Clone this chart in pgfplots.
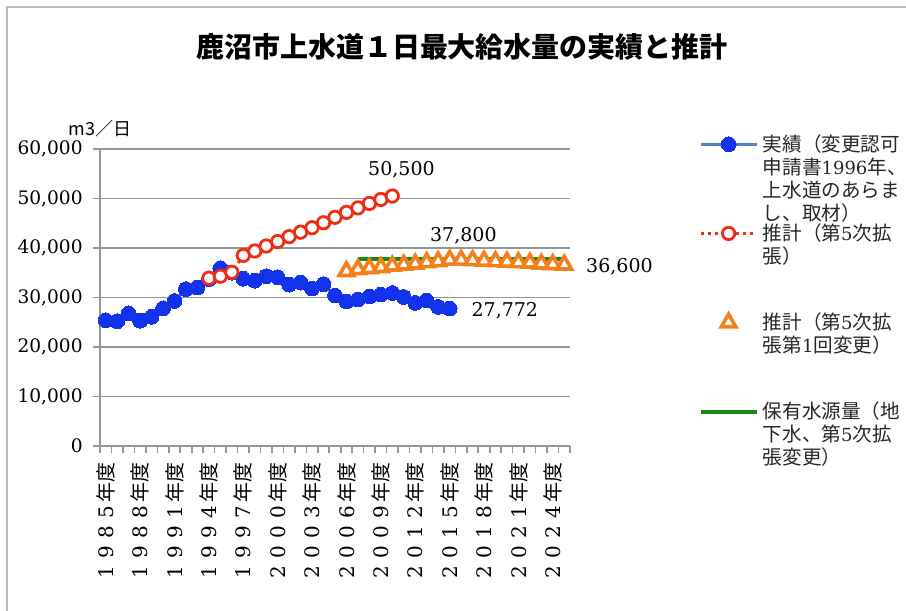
\documentclass[border=0pt]{standalone}
\usepackage{fontspec}
\usepackage{pgfplots}
\pgfplotsset{compat=1.18}
\newfontfamily\numfont{DejaVu Serif}
\newfontfamily\cjk{Noto Sans CJK JP}
\definecolor{blueline}{RGB}{84,130,190}
\definecolor{bluemark}{RGB}{18,50,235}
\definecolor{redmark}{RGB}{240,45,20}
\definecolor{orangemark}{RGB}{245,128,25}
\definecolor{greenline}{RGB}{20,140,20}
\definecolor{gridgray}{RGB}{150,150,150}

% vertical year label: digits spaced like full-width characters
\def\yr#1#2#3#4{{\numfont\makebox[10pt]{#1}\makebox[10pt]{#2}\makebox[10pt]{#3}\makebox[10pt]{#4}}{\cjk 年度}}
\newcommand\lgd[1]{\parbox[t]{75pt}{#1}}
\newcommand\ld[1]{{\numfont\fontsize{9}{11.5}\selectfont #1}}

\begin{document}
\begin{tikzpicture}
\path[use as bounding box] (0,0) rectangle (453pt,305.5pt);
\draw[gray!55, line width=0.8pt] (3.5pt,0) -- (3.5pt,302pt) -- (453pt,302pt);
\node[font=\cjk\bfseries\fontsize{14}{16}\selectfont] at (231pt,282pt) {鹿沼市上水道１日最大給水量の実績と推計};
\node[font=\cjk\fontsize{9}{11}\selectfont] at (50pt,241pt) {m3／日};
\begin{axis}[
  at={(50pt,82.5pt)}, anchor=south west,
  scale only axis, width=235pt, height=148.5pt,
  xmin=1984.5, xmax=2025.5, ymin=0, ymax=60000,
  clip=false,
  axis lines*=left,
  axis line style={gridgray, line width=1pt, -},
  ymajorgrids, grid style={gridgray, line width=0.8pt},
  ytick={0,10000,...,60000},
  scaled y ticks=false,
  /pgf/number format/fixed,
  /pgf/number format/1000 sep={,},
  /pgf/number format/assume math mode=true,
  yticklabel style={font=\numfont\fontsize{9.3}{11}\selectfont, inner sep=0pt, xshift=-5pt},
  tick align=outside,
  major tick length=3.5pt,
  minor tick length=3.5pt,
  every major y tick/.append style={gridgray, line width=0.8pt},
  every major x tick/.append style={draw=none},
  every minor x tick/.append style={gridgray, line width=0.8pt},
  xtick={1985,1988,...,2024},
  minor xtick={1984.5,1985.5,...,2025.5},
  xticklabels={\yr1985,\yr1988,\yr1991,\yr1994,\yr1997,\yr2000,\yr2003,\yr2006,\yr2009,\yr2012,\yr2015,\yr2018,\yr2021,\yr2024},
  xticklabel style={rotate=90, anchor=east, inner sep=0pt, xshift=-4.5pt, font=\fontsize{10}{12}\selectfont},
  legend cell align=left,
  legend style={draw=none, fill=none, at={(1.2596,1.0776)}, anchor=north west,
    font=\cjk\fontsize{9.8}{11.5}\selectfont, text=black!85, row sep=30.7pt,
    /tikz/every even column/.append style={column sep=2pt}},
  legend image code/.code={\draw[mark repeat=2, mark phase=2, #1] plot coordinates {(0pt,0pt) (14pt,0pt) (28pt,0pt)};},
]
% water source capacity (drawn first so the triangles sit on top)
\addplot[greenline, line width=2.2pt, no marks, forget plot] coordinates {(2007,37800) (2025,37800)};

\addplot[color=blueline, line width=1.6pt, mark=*, mark size=3.7pt,
  mark options={solid, fill=bluemark, draw=bluemark, line width=0pt}] coordinates {
  (1985,25400) (1986,25200) (1987,26800) (1988,25300) (1989,26100)
  (1990,27800) (1991,29300) (1992,31700) (1993,32000) (1994,33700)
  (1995,35900) (1996,35000) (1997,33800) (1998,33400) (1999,34300)
  (2000,34100) (2001,32600) (2002,33000) (2003,31800) (2004,32700)
  (2005,30400) (2006,29200) (2007,29600) (2008,30200) (2009,30600)
  (2010,30900) (2011,30100) (2012,28900) (2013,29400) (2014,28100)
  (2015,27772)};
\addlegendentry{\lgd{実績（変更認可\\申請書\ld{1996}年、\\上水道のあらま\\し、取材）}}

\addplot[color=redmark, line width=1.5pt, dotted, mark=*, mark size=3.1pt,
  mark options={solid, fill=white, draw=redmark, line width=1.4pt}] coordinates {
  (1994,33900) (1995,34300) (1996,35100) (1997,38500) (1998,39400)
  (1999,40400) (2000,41300) (2001,42300) (2002,43200) (2003,44100)
  (2004,45100) (2005,46200) (2006,47200) (2007,48100) (2008,49000)
  (2009,49800) (2010,50500)};
\addlegendentry{\lgd{推計（第\ld{5}次拡\\張）}}

\addplot[only marks, mark=triangle*, mark size=4.2pt,
  mark options={fill=white, draw=orangemark, line width=1.8pt}] coordinates {
  (2006,35300) (2007,35700) (2008,35900) (2009,36100) (2010,36400)
  (2011,36600) (2012,36800) (2013,37100) (2014,37300) (2015,37600)
  (2016,37600) (2017,37500) (2018,37400) (2019,37300) (2020,37200)
  (2021,37100) (2022,37000) (2023,36800) (2024,36700) (2025,36600)};
\addlegendentry{\lgd{推計（第\ld{5}次拡\\張第\ld{1}回変更）}}

\addlegendimage{greenline, line width=2.2pt, no marks}
\addlegendentry{\lgd{保有水源量（地\\下水、第\ld{5}次拡\\張変更）}}

\node[font=\numfont\fontsize{9.5}{11}\selectfont] at (axis cs:2010.8,55800) {50,500};
\node[font=\numfont\fontsize{9.5}{11}\selectfont] at (axis cs:2016.2,42400) {37,800};
\node[font=\numfont\fontsize{9.5}{11}\selectfont, anchor=west] at (axis cs:2026.3,36200) {36,600};
\node[font=\numfont\fontsize{9.5}{11}\selectfont, anchor=west] at (axis cs:2016.3,27300) {27,772};
\end{axis}
\end{tikzpicture}
\end{document}
